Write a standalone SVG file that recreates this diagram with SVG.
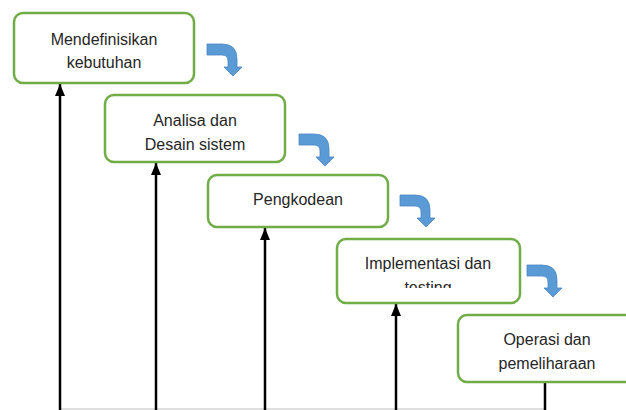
<svg xmlns="http://www.w3.org/2000/svg" width="626" height="410" viewBox="0 0 626 410">
<style>
.box{fill:#fff;stroke:#70AD47;stroke-width:2.5}
.t{font-family:"Liberation Sans",Arial,sans-serif;font-size:16px;fill:#262626;text-anchor:middle}
.ln{stroke:#000;stroke-width:2.5;fill:none}
.flow{fill:#5B9BD5;stroke:#4A86C4;stroke-width:0.8}
</style>
<defs>
<marker id="ah" markerUnits="userSpaceOnUse" markerWidth="12" markerHeight="10" viewBox="0 0 12 10" refX="12" refY="5" orient="auto">
<path d="M0,0 L12,5 L0,10 Z" fill="#000"/>
</marker>
<path id="bend" d="M0,0 H15 Q30,0 30,15 V23 H35 L26,32 L17,23 H21 V17 Q21,11 15,11 H0 Z"/>
<clipPath id="clip4"><rect x="330" y="230" width="200" height="58"/></clipPath>
</defs>
<rect x="0" y="0" width="626" height="410" fill="#fff"/>
<g id="connectors">
<line x1="60" y1="409" x2="545" y2="409" stroke="#bfbfbf" stroke-width="1.2"/>
<line class="ln" x1="60" y1="410" x2="60" y2="84" marker-end="url(#ah)"/>
<line class="ln" x1="156" y1="410" x2="156" y2="163" marker-end="url(#ah)"/>
<line class="ln" x1="265" y1="410" x2="265" y2="228" marker-end="url(#ah)"/>
<line class="ln" x1="396" y1="410" x2="396" y2="304" marker-end="url(#ah)"/>
<line class="ln" x1="545" y1="383" x2="545" y2="410"/>
<use href="#bend" class="flow" transform="translate(207,44)"/>
<use href="#bend" class="flow" transform="translate(299,134)"/>
<use href="#bend" class="flow" transform="translate(400,195)"/>
<use href="#bend" class="flow" transform="translate(527,265)"/>
</g>
<g id="n1">
<rect class="box" x="14" y="13" width="180" height="70" rx="9"/>
<text class="t" x="104" y="45">Mendefinisikan</text>
<text class="t" x="104" y="68">kebutuhan</text>
</g>
<g id="n2">
<rect class="box" x="105" y="95" width="180" height="67" rx="9"/>
<text class="t" x="195" y="126">Analisa dan</text>
<text class="t" x="195" y="150">Desain sistem</text>
</g>
<g id="n3">
<rect class="box" x="208" y="175" width="180" height="52" rx="9"/>
<text class="t" x="298" y="205">Pengkodean</text>
</g>
<g id="n4">
<rect class="box" x="337" y="239" width="183" height="64" rx="9"/>
<text class="t" x="428" y="269">Implementasi dan</text>
<text class="t" x="428" y="293" clip-path="url(#clip4)">testing</text>
</g>
<g id="n5">
<rect class="box" x="458" y="315" width="190" height="67" rx="9"/>
<text class="t" x="547" y="345">Operasi dan</text>
<text class="t" x="547" y="369">pemeliharaan</text>
</g>
</svg>
